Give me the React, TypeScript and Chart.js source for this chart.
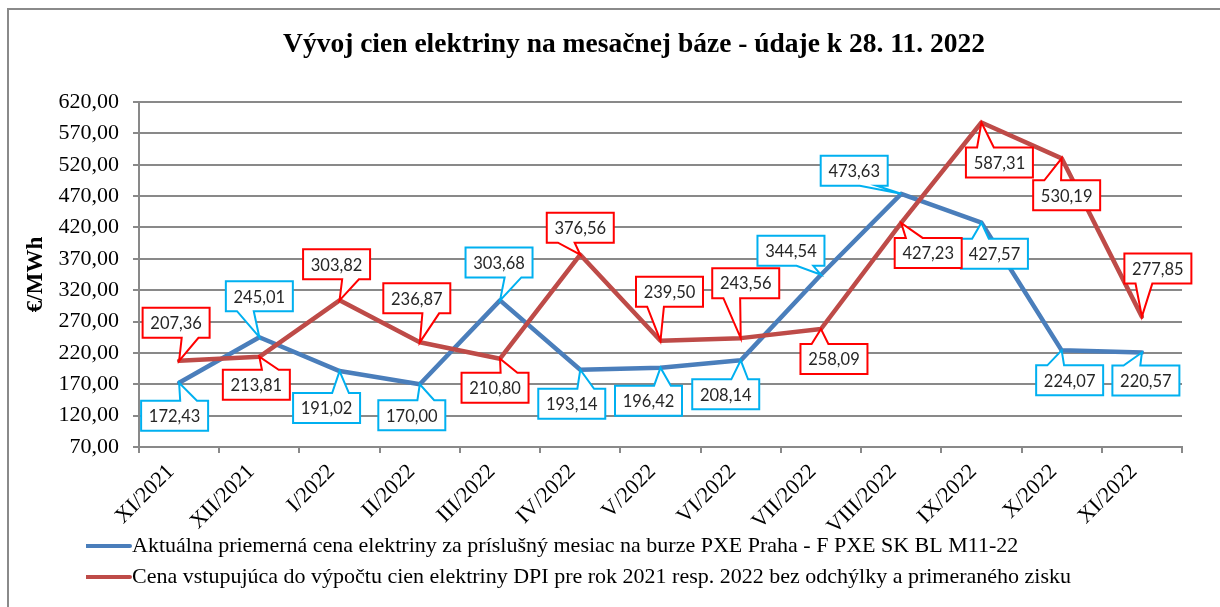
import React, { useEffect, useRef } from 'react';
import { Chart, registerables } from 'chart.js';

Chart.register(...registerables);

// ---------- data ----------
const months = ['XI/2021', 'XII/2021', 'I/2022', 'II/2022', 'III/2022', 'IV/2022', 'V/2022', 'VI/2022', 'VII/2022', 'VIII/2022', 'IX/2022', 'X/2022', 'XI/2022'];
const pxePrices = [172.43, 245.01, 191.02, 170.0, 303.68, 193.14, 196.42, 208.14, 344.54, 473.63, 427.57, 224.07, 220.57];
const dpiPrices = [207.36, 213.81, 303.82, 236.87, 210.8, 376.56, 239.5, 243.56, 258.09, 427.23, 587.31, 530.19, 277.85];
const seriesNames = [
  'Aktuálna priemerná cena elektriny za príslušný mesiac na burze PXE Praha - F PXE SK BL M11-22',
  'Cena vstupujúca do výpočtu cien elektriny DPI pre rok 2021 resp. 2022 bez odchýlky a primeraného zisku',
];
const titleText = 'Vývoj cien elektriny na mesačnej báze - údaje k 28. 11. 2022';
const yTitleText = '€/MWh';
const yMin = 70;
const yMax = 620;
const yStep = 50;

// ---------- styling (label placement relative to its point, px) ----------
const pxeLabelOffsets = [
  [-4.5, 33], [0, -41], [-13, 37], [-8, 31], [-1, -38], [-8.5, 34], [-12, 33],
  [-15, 34], [-30, -24], [-47, -23], [13, 31], [8, 30], [4, 28],
];
const dpiLabelOffsets = [
  [-3, -38], [-3, 28], [-3, -36], [-3, -44], [-5, 29], [0, -27], [9, -49],
  [5, -55], [13, 30], [27, 30], [18, 40], [5, 37], [16, -48],
];
const lineColors = ['#4a7ebb', '#be4b48'];
const calloutColors = ['#00b0f0', '#ff0000'];
const gridColor = '#898989';
const serif = "'Liberation Serif', 'Times New Roman', serif";

const fmt = (v: number) => v.toFixed(2).replace('.', ',');

function calloutPath(ctx: CanvasRenderingContext2D, cx: number, cy: number, w: number, h: number, px: number, py: number) {
  const l = cx - w / 2, t = cy - h / 2, r = cx + w / 2, b = cy + h / 2;
  const dxPos = px - cx;
  const dyPos = py - cy;
  ctx.beginPath();
  if (Math.abs(dxPos) <= w / 2 && Math.abs(dyPos) <= h / 2) {
    ctx.rect(l, t, w, h);
    return;
  }
  const dq = Math.abs((dxPos * h) / w) - Math.abs(dyPos);
  const x1 = l + (w * (dxPos > 0 ? 7 : 2)) / 12;
  const x2 = l + (w * (dxPos > 0 ? 10 : 5)) / 12;
  const y1 = t + (h * (dyPos > 0 ? 7 : 2)) / 12;
  const y2 = t + (h * (dyPos > 0 ? 10 : 5)) / 12;
  if (dq > 0) {
    if (dxPos < 0) {
      ctx.moveTo(l, t); ctx.lineTo(r, t); ctx.lineTo(r, b); ctx.lineTo(l, b);
      ctx.lineTo(l, y2); ctx.lineTo(px, py); ctx.lineTo(l, y1);
    } else {
      ctx.moveTo(l, t); ctx.lineTo(r, t); ctx.lineTo(r, y1); ctx.lineTo(px, py);
      ctx.lineTo(r, y2); ctx.lineTo(r, b); ctx.lineTo(l, b);
    }
  } else if (dyPos < 0) {
    ctx.moveTo(l, t); ctx.lineTo(x1, t); ctx.lineTo(px, py); ctx.lineTo(x2, t);
    ctx.lineTo(r, t); ctx.lineTo(r, b); ctx.lineTo(l, b);
  } else {
    ctx.moveTo(l, t); ctx.lineTo(r, t); ctx.lineTo(r, b); ctx.lineTo(x2, b);
    ctx.lineTo(px, py); ctx.lineTo(x1, b); ctx.lineTo(l, b);
  }
  ctx.closePath();
}

const calloutPlugin = {
  id: 'callouts',
  afterDatasetsDraw(chart: any) {
    const ctx: CanvasRenderingContext2D = chart.ctx;
    const offsets = [pxeLabelOffsets, dpiLabelOffsets];
    ctx.save();
    ctx.font = "16.5px Lato, 'Open Sans', sans-serif";
    ctx.textAlign = 'center';
    ctx.textBaseline = 'middle';
    ctx.lineJoin = 'miter';
    [0, 1].forEach((di) => {
      const meta = chart.getDatasetMeta(di);
      const values = chart.data.datasets[di].data as number[];
      meta.data.forEach((el: any, j: number) => {
        const text = fmt(values[j]);
        const [dx, dy] = offsets[di][j];
        const w = 67;
        const h = 30;
        const cx = el.x + dx;
        const cy = el.y + dy;
        calloutPath(ctx, cx, cy, w, h, el.x, el.y);
        ctx.fillStyle = '#ffffff';
        ctx.fill();
        ctx.lineWidth = 2;
        ctx.strokeStyle = calloutColors[di];
        ctx.stroke();
        ctx.fillStyle = '#262626';
        ctx.fillText(text, cx, cy + 1);
      });
    });
    ctx.restore();
  },
};

const framePlugin = {
  id: 'frame',
  beforeDraw(chart: any) {
    const ctx: CanvasRenderingContext2D = chart.ctx;
    ctx.save();
    ctx.fillStyle = '#ffffff';
    ctx.fillRect(0, 0, chart.width, chart.height);
    ctx.strokeStyle = '#8a8a8a';
    ctx.lineWidth = 2;
    ctx.beginPath();
    ctx.moveTo(8, chart.height + 2);
    ctx.lineTo(8, 9);
    ctx.lineTo(chart.width + 2, 9);
    ctx.stroke();
    ctx.restore();
  },
};

function makeLegendLine(color: string) {
  const c = document.createElement('canvas');
  c.width = 48;
  c.height = 6;
  const g = c.getContext('2d')!;
  g.strokeStyle = color;
  g.lineWidth = 4;
  g.lineCap = 'round';
  g.beginPath();
  g.moveTo(2, 3);
  g.lineTo(46, 3);
  g.stroke();
  return c;
}

export default function App() {
  const canvasRef = useRef<HTMLCanvasElement | null>(null);

  useEffect(() => {
    if (!canvasRef.current) return;
    const legendImgs = lineColors.map(makeLegendLine);
    const chart = new Chart(canvasRef.current, {
      type: 'line',
      data: {
        labels: months,
        datasets: [
          {
            label: seriesNames[0],
            data: pxePrices,
            borderColor: lineColors[0],
            backgroundColor: lineColors[0],
            borderWidth: 4.5,
            pointRadius: 0,
            pointHoverRadius: 0,
            tension: 0,
            borderJoinStyle: 'round',
            borderCapStyle: 'round',
            order: 1,
          },
          {
            label: seriesNames[1],
            data: dpiPrices,
            borderColor: lineColors[1],
            backgroundColor: lineColors[1],
            borderWidth: 4.5,
            pointRadius: 0,
            pointHoverRadius: 0,
            tension: 0,
            borderJoinStyle: 'round',
            borderCapStyle: 'round',
            order: 0,
          },
        ],
      },
      options: {
        responsive: false,
        animation: false,
        events: [],
        layout: { padding: { left: 86, right: 38, top: 0, bottom: 9 } },
        plugins: {
          tooltip: { enabled: false },
          title: {
            display: true,
            text: titleText,
            color: '#000',
            font: { family: serif, size: 27.5, weight: 'bold' },
            padding: { top: 28, bottom: 41 },
          },
          legend: {
            display: true,
            position: 'bottom',
            align: 'start',
            labels: {
              usePointStyle: true,
              pointStyleWidth: 26,
              padding: 9,
              color: '#000',
              font: { family: serif, size: 22 },
              sort: (a: any, b: any) => a.datasetIndex - b.datasetIndex,
              generateLabels: (ch: any) => {
                const items = (Chart.defaults.plugins.legend.labels as any).generateLabels(ch);
                return items.map((it: any) => ({ ...it, pointStyle: legendImgs[it.datasetIndex] }));
              },
            },
          },
        },
        scales: {
          x: {
            type: 'category',
            offset: true,
            afterFit: (s: any) => { s.height = 79; },
            grid: {
              display: true,
              offset: true,
              drawOnChartArea: false,
              drawTicks: true,
              tickLength: 6,
              color: gridColor,
              lineWidth: 2,
            },
            border: { display: true, color: gridColor, width: 2 },
            ticks: {
              autoSkip: false,
              maxRotation: 45,
              minRotation: 45,
              mirror: true,
              padding: -30.6,
              labelOffset: 10.6,
              color: '#000',
              font: { family: serif, size: 22 },
            },
          },
          y: {
            type: 'linear',
            min: yMin,
            max: yMax,
            afterFit: (s: any) => { s.width = 53; },
            title: {
              display: true,
              text: yTitleText,
              color: '#000',
              font: { family: serif, size: 23, weight: 'bold' },
              padding: { top: -64, bottom: 0 },
            },
            grid: {
              color: gridColor,
              lineWidth: 2,
              tickLength: 6,
              drawTicks: true,
            },
            border: { display: true, color: gridColor, width: 2 },
            ticks: {
              stepSize: yStep,
              mirror: true,
              crossAlign: 'far',
              padding: -80.5,
              color: '#000',
              font: { family: serif, size: 22 },
              callback: (v: any) => fmt(Number(v)),
            },
          },
        },
      },
      plugins: [framePlugin, calloutPlugin],
    } as any);
    return () => chart.destroy();
  }, []);

  return (
    <div style={{ position: 'fixed', left: 0, top: 0, width: 1220, height: 607, background: '#fff', overflow: 'hidden' }}>
      <canvas ref={canvasRef} width={1220} height={607} style={{ display: 'block', width: 1220, height: 607 }} />
    </div>
  );
}
